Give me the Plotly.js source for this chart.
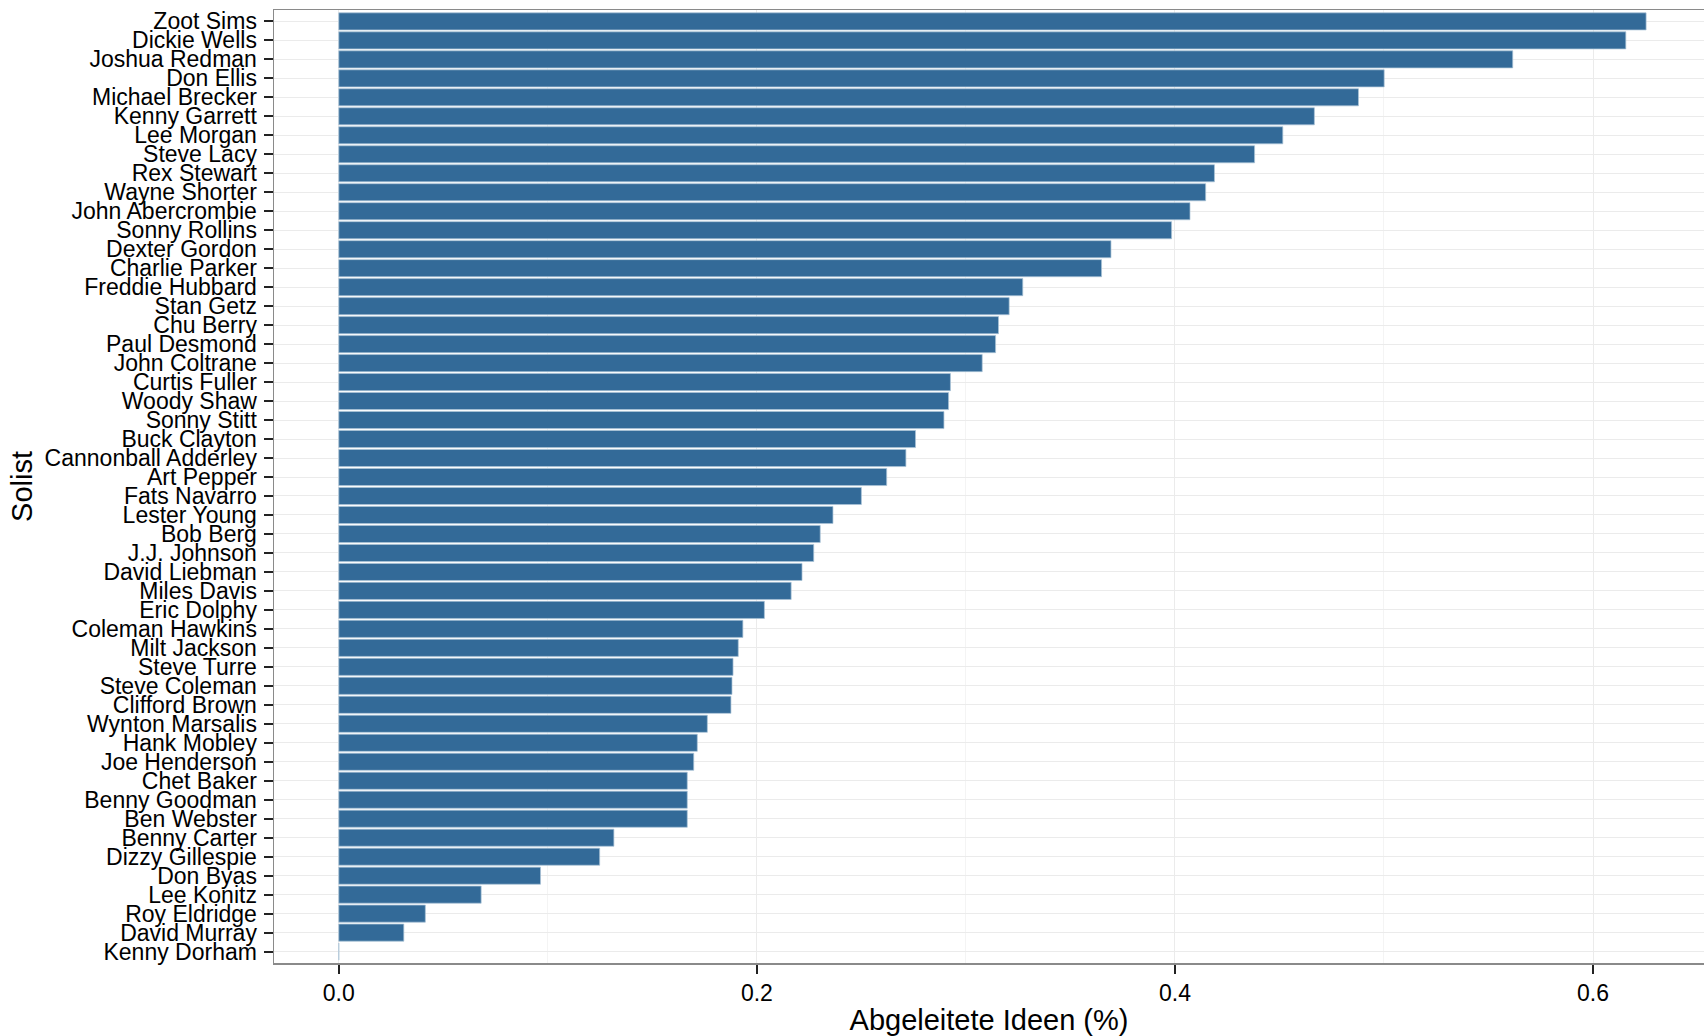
<!DOCTYPE html>
<html>
<head>
<meta charset="utf-8">
<script src="https://cdn.plot.ly/plotly-3.0.1.min.js"></script>
<style>
html,body{margin:0;padding:0;background:#fff;}
#chart{width:1704px;height:1036px;}
</style>
</head>
<body>
<div id="chart"></div>
<script>
// Soloists, top to bottom as shown
const soloists = [
  "Zoot Sims","Dickie Wells","Joshua Redman","Don Ellis","Michael Brecker",
  "Kenny Garrett","Lee Morgan","Steve Lacy","Rex Stewart","Wayne Shorter",
  "John Abercrombie","Sonny Rollins","Dexter Gordon","Charlie Parker","Freddie Hubbard",
  "Stan Getz","Chu Berry","Paul Desmond","John Coltrane","Curtis Fuller",
  "Woody Shaw","Sonny Stitt","Buck Clayton","Cannonball Adderley","Art Pepper",
  "Fats Navarro","Lester Young","Bob Berg","J.J. Johnson","David Liebman",
  "Miles Davis","Eric Dolphy","Coleman Hawkins","Milt Jackson","Steve Turre",
  "Steve Coleman","Clifford Brown","Wynton Marsalis","Hank Mobley","Joe Henderson",
  "Chet Baker","Benny Goodman","Ben Webster","Benny Carter","Dizzy Gillespie",
  "Don Byas","Lee Konitz","Roy Eldridge","David Murray","Kenny Dorham"
];
// Derived ideas (%)
const derivedIdeas = [
  0.6254,0.6157,0.5616,0.5001,0.4878,
  0.4667,0.4516,0.4381,0.4189,0.4147,
  0.4072,0.3984,0.3694,0.3649,0.3272,
  0.3207,0.3156,0.3142,0.3078,0.2926,
  0.2917,0.2895,0.2759,0.2713,0.2621,
  0.2500,0.2364,0.2303,0.2272,0.2216,
  0.2164,0.2036,0.1933,0.1911,0.1886,
  0.1881,0.1876,0.1763,0.1715,0.1698,
  0.1667,0.1667,0.1667,0.1316,0.1248,
  0.0965,0.0681,0.0414,0.0311,0.0
];
const xTickVals = [0, 0.2, 0.4, 0.6];
const xTickText = ["0.0", "0.2", "0.4", "0.6"];

const catOrder = soloists.slice().reverse();

const trace = {
  type: 'bar',
  orientation: 'h',
  x: derivedIdeas,
  y: soloists,
  width: 0.9,
  marker: {color: '#336a98', line: {color: 'rgba(170,195,215,0.9)', width: 0.8}},
  hoverinfo: 'x+y'
};

const layout = {
  width: 1704, height: 1036,
  margin: {l: 274, r: 0, t: 10, b: 73, pad: 0},
  paper_bgcolor: '#ffffff',
  plot_bgcolor: '#ffffff',
  font: {family: '"Liberation Sans", Arial, sans-serif', color: '#000000'},
  showlegend: false,
  bargap: 0,
  xaxis: {
    range: [-0.031, 0.6531],
    tickmode: 'array',
    tickvals: xTickVals,
    ticktext: xTickText,
    showgrid: true,
    gridcolor: '#ebebeb',
    gridwidth: 1,
    minor: {dtick: 0.1, tick0: 0, showgrid: true, gridcolor: '#f4f4f4', gridwidth: 1, ticks: ''},
    zeroline: false,
    showline: true,
    linecolor: '#8a8a8a',
    linewidth: 1.5,
    mirror: true,
    ticks: 'outside',
    ticklen: 9,
    tickwidth: 2,
    tickcolor: '#222222',
    tickfont: {size: 23, color: '#000000'},
    ticklabelstandoff: 0,
    title: {text: 'Abgeleitete Ideen (%)', font: {size: 29, color: '#000000'}, standoff: 6},
    fixedrange: true
  },
  yaxis: {
    type: 'category',
    categoryorder: 'array',
    categoryarray: catOrder,
    range: [-0.6, 49.6],
    tickmode: 'array',
    tickvals: soloists,
    ticktext: soloists,
    showgrid: true,
    gridcolor: '#ebebeb',
    gridwidth: 1,
    zeroline: false,
    showline: true,
    linecolor: '#8a8a8a',
    linewidth: 1.5,
    ticks: 'outside',
    ticklen: 9,
    tickwidth: 2,
    tickcolor: '#222222',
    tickfont: {size: 23, color: '#000000'},
    ticklabelstandoff: 2,
    title: {text: 'Solist', font: {size: 29, color: '#000000'}, standoff: 3},
    automargin: false,
    fixedrange: true
  }
};

Plotly.newPlot('chart', [trace], layout, {displayModeBar: false, staticPlot: true});
</script>
</body>
</html>
